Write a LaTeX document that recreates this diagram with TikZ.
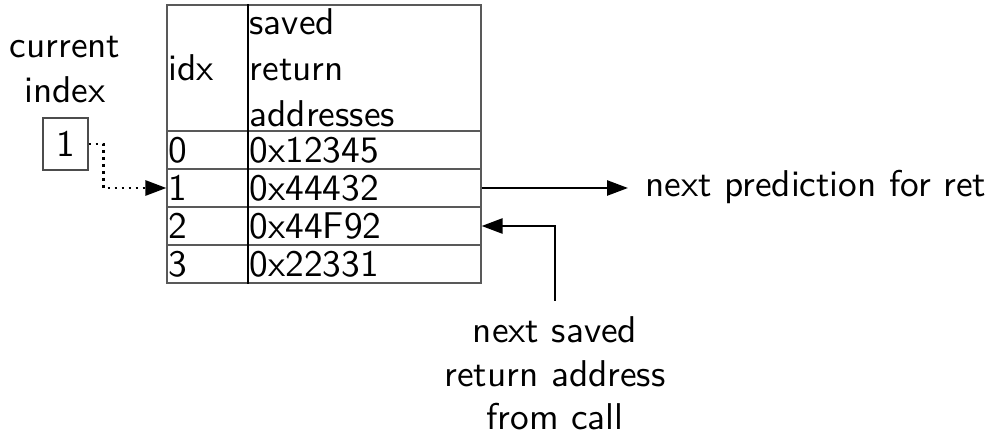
\documentclass[tikz,border=0pt]{standalone}
\usepackage{fontspec}
\setsansfont{lmsans10-regular.otf}
\usetikzlibrary{arrows.meta,calc}
\begin{document}
\begin{tikzpicture}[x=1pt,y=-1pt,
  big/.style={font=\fontsize{37.3}{44}\selectfont\sffamily},
  txt/.style={big,inner sep=0pt,anchor=base west},
  ctxt/.style={big,inner sep=0pt,anchor=base},
  cellbox/.style={draw=black!65,line width=1.2pt,inner sep=0pt},
  ptr/.style={line width=2.6pt,-{Triangle[length=21pt,width=15pt]}},
  dotptr/.style={line width=2.8pt,dash pattern=on 2.8pt off 4.2pt,
                 -{Triangle[length=21pt,width=15pt]}}]
\useasboundingbox (0,0) rectangle (991,435);

% stack table: header and four rows
\node[cellbox,minimum width=314pt,minimum height=126pt] (head) at (324,68) {};
\node[cellbox,minimum width=314pt,minimum height=38pt] (r0) at (324,150) {};
\node[cellbox,minimum width=314pt,minimum height=38pt] (r1) at (324,188) {};
\node[cellbox,minimum width=314pt,minimum height=38pt] (r2) at (324,226) {};
\node[cellbox,minimum width=314pt,minimum height=38pt] (r3) at (324,264) {};
\coordinate (colsep) at (248,0);
\draw[line width=1.4pt] (colsep |- head.north) -- (colsep |- r3.south);

% header texts
\node[txt] (hidx) at (168,81) {idx};
\node[txt] (hsaved) at (249.5,35) {saved};
\node[txt] (hreturn) at (249.5,81) {return};
\node[txt] (haddr) at (249.5,127) {addresses};

% row contents
\node[txt] (i0) at (168,163) {0};
\node[txt] (a0) at (249.5,163) {0x12345};
\node[txt] (i1) at (168,201) {1};
\node[txt] (a1) at (249.5,201) {0x44432};
\node[txt] (i2) at (168,239) {2};
\node[txt] (a2) at (249.5,239) {0x44F92};
\node[txt] (i3) at (168,277) {3};
\node[txt] (a3) at (249.5,277) {0x22331};

% current index
\node[ctxt] (cur1) at (65,58) {current};
\node[ctxt] (cur2) at (65,103) {index};
\node[big,draw=black!70,line width=1.2pt,inner sep=0pt,
      minimum width=45pt,minimum height=52pt] (idxbox) at (65.5,144) {1};
\draw[dotptr] (idxbox.east) -- ++(15,0) |- (r1.west);

% outgoing prediction
\node[txt] (pred) at (645,197) {next prediction for ret};
\draw[ptr] (r1.east) -- ([xshift=-17pt]r1.east -| pred.west);

% incoming saved address
\node[ctxt] (save1) at (555,343) {next saved};
\node[ctxt] (save2) at (555,387) {return address};
\node[ctxt] (save3) at (555,430) {from call};
\draw[ptr] ([yshift=16pt]save1.north) |- (r2.east);
\end{tikzpicture}
\end{document}
